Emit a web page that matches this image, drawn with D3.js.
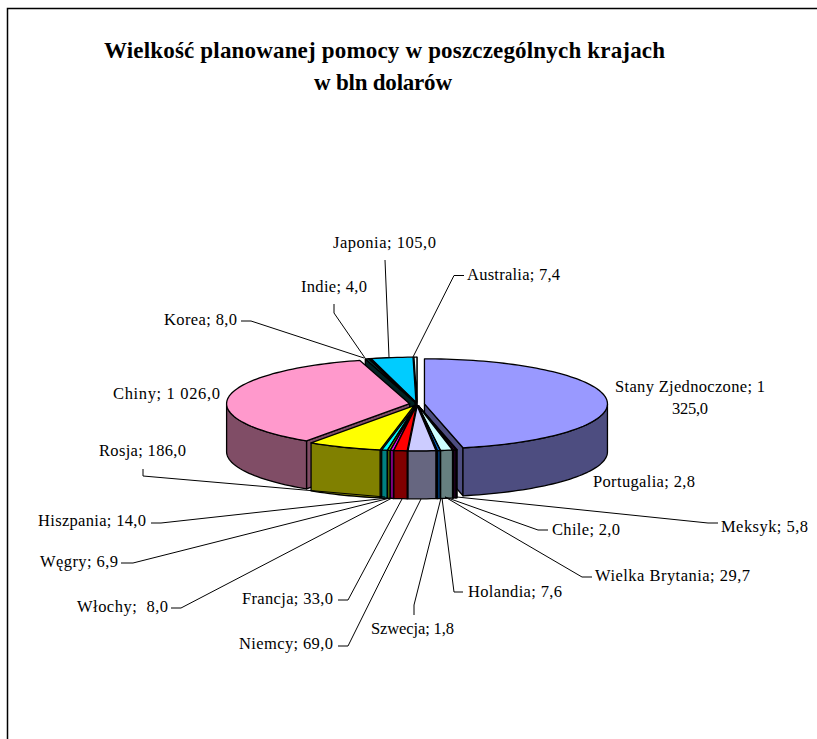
<!DOCTYPE html>
<html><head><meta charset="utf-8">
<style>html,body{margin:0;padding:0;background:#fff}svg{display:block}text{font-family:"Liberation Serif",serif;fill:#000;white-space:pre}</style>
<script src="https://cdn.jsdelivr.net/npm/d3@7/dist/d3.min.js"></script>
</head><body><svg id="c" width="817" height="739"></svg>
<script>
const titleLines = ["Wielkość planowanej pomocy w poszczególnych krajach", "w bln dolarów"];
const countries = ["Stany Zjednoczone","Portugalia","Meksyk","Chile","Wielka Brytania","Holandia","Szwecja","Niemcy","Francja","Włochy","Węgry","Hiszpania","Rosja","Chiny","Korea","Indie","Japonia","Australia"];
const values = [1325,2.8,5.8,2,29.7,7.6,1.8,69,33,8,6.9,14,186,1026,8,4,105,7.4];
const colors = ["#9999FF","#993366","#660066","#FFFFCC","#CCFFFF","#0066CC","#000080","#CCCCFF","#FF0000","#FF00FF","#99CC00","#00FFFF","#FFFF00","#FF99CC","#004444","#000080","#00CCFF","#E6FFFF"];

// label layout: [left, baseline, width]; one row per country
const labelBoxes = [[615,392,150],[593,487,102],[721,532,87],[552,535,68],[595,581,155],[468,597,94],[371,634,83],[239,649,94],[242,604,91],[77,612,91],[40,567,78],[38,526,108],[99,456,87],[113,399,107],[164,325,73],[301,292,66],[333,248,103],[467,280,93]];
// leader polylines, same order as countries (null = no leader)
const leaders = [null,null,
 [[457,497],[708,523],[718,523]],[[445,497],[538,530],[548,530]],[[445,497],[582,577],[592,577]],
 [[442,498],[454,592],[463,592]],[[441,498],[414,605],[414,615]],[[421,499],[348,646],[338,646]],
 [[402,499],[348,600],[338,600]],[[392,498],[181,608],[171,608]],[[390,498],[133,563],[121,563]],
 [[388,498],[161,523],[151,523]],[[385,497],[143,476],[143,469]],null,
 [[364,358],[251,321],[241,321]],[[365,358],[334,313],[334,304]],[[389,357],[385,260]],[[413,357],[454,275.5],[464,275.5]]];

const svg = d3.select("#c");
const W = 817, H = 739;
const cx = 417, cy = 404, rx = 183, ry = 45, depth = 48, explode = 7.5/183;
const TAU = 2*Math.PI;

svg.append("path").attr("d", d3.line()([[7.5,H],[7.5,8.5],[W,8.5]])).attr("fill","none").attr("stroke","#000").attr("stroke-width",1.5);

titleLines.forEach((t,i)=>{
  svg.append("text").text(t).attr("x", i?383:384.5).attr("y", i?90:58).attr("text-anchor","middle")
   .attr("font-size",23).attr("font-weight","bold")
   .attr("textLength", i?138:561).attr("lengthAdjust","spacing");
});

const sx = d3.scaleLinear().domain([-1,1]).range([cx-rx,cx+rx]);
const sy = d3.scaleLinear().domain([-1,1]).range([cy-ry,cy+ry]);
const pie = d3.pie().sort(null).value(d=>d)(values);
const line = d3.line();
const arcPts = (a,b,ox,oy,dz) => {
  const n = Math.max(2,Math.ceil((b-a)/0.03));
  return d3.range(n+1).map(i=>{const t=a+(b-a)*i/n; return [sx(ox+Math.sin(t)),sy(oy-Math.cos(t))+dz];});
};
const dark = c => {const r=d3.rgb(c); return d3.rgb(r.r*.5,r.g*.5,r.b*.5).formatHex();};

const slices = pie.map((p,i)=>{
  const mid=(p.startAngle+p.endAngle)/2;
  return {i,a:p.startAngle,b:p.endAngle,mid,ox:Math.sin(mid)*explode,oy:-Math.cos(mid)*explode};
}).sort((m,n)=>Math.cos(n.mid)-Math.cos(m.mid));

const g = svg.append("g").attr("stroke","#000").attr("stroke-width",1.3).attr("stroke-linejoin","round");
const leaderG = svg.append("g").attr("fill","none").attr("stroke","#000").attr("stroke-width",1);

slices.forEach(s=>{
  const col=colors[s.i], side=dark(col);
  const apex=[sx(s.ox),sy(s.oy)];
  const wall=(ang)=>{
    const rim=[sx(s.ox+Math.sin(ang)),sy(s.oy-Math.cos(ang))];
    g.append("path").attr("fill",side).attr("d",line([apex,rim,[rim[0],rim[1]+depth],[apex[0],apex[1]+depth]])+"Z");
  };
  if(Math.sin(s.a)<0) wall(s.a);
  if(Math.sin(s.b)>0) wall(s.b);
  const fa=Math.max(s.a,TAU/4), fb=Math.min(s.b,3*TAU/4);
  if(fb>fa){
    const top=arcPts(fa,fb,s.ox,s.oy,0), bot=arcPts(fa,fb,s.ox,s.oy,depth).reverse();
    g.append("path").attr("fill",side).attr("d",line(top.concat(bot))+"Z");
  }
  g.append("path").attr("fill",col).attr("d",line([apex].concat(arcPts(s.a,s.b,s.ox,s.oy,0)))+"Z");
});

const fmt = d3.formatLocale({decimal:",",thousands:" ",grouping:[3],currency:["",""]}).format(",.1f");
countries.forEach((name,i)=>{
  if(leaders[i]) leaderG.append("path").attr("d",line(leaders[i]));
  const [x,y,w]=labelBoxes[i];
  const sep = name==="Włochy" ? ";  " : "; ";
  const full=name+sep+fmt(values[i]);
  const add=(t,xx,yy,ww)=>svg.append("text").text(t).attr("x",xx).attr("y",yy).attr("font-size",16.5)
    .attr("xml:space","preserve").attr("textLength",ww).attr("lengthAdjust","spacing");
  if(i===0){
    const parts=full.split(" ");
    const v=parts.pop();
    add(parts.join(" "),x,y,w);
    add(v,672,414,36);
  } else add(full,x,y,w);
});
</script></body></html>
